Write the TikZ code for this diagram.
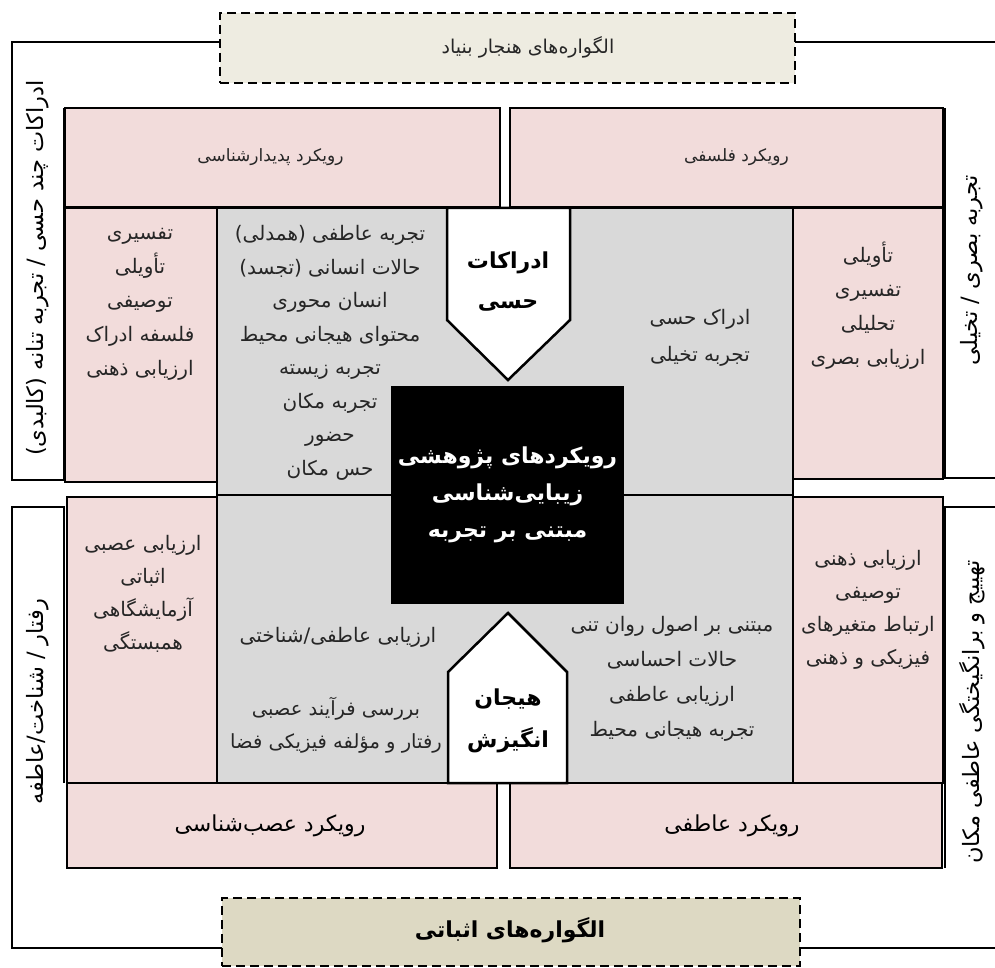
\documentclass[tikz,border=0pt]{standalone}
\usepackage{fontspec}
\newfontfamily\arabicfont[Script=Arabic]{DejaVu Sans}
\TeXXeTstate=1
\newcommand{\fa}[1]{\beginR #1\endR}
\definecolor{pinkbox}{HTML}{F2DCDB}
\definecolor{graybox}{HTML}{D9D9D9}
\definecolor{tanlight}{HTML}{EEECE1}
\definecolor{tandark}{HTML}{DDD9C3}
\begin{document}
\begin{tikzpicture}[x=1pt,y=-1pt,
  box/.style={draw=black, line width=2.5pt, anchor=north west, inner sep=0pt, outer sep=0pt},
  pinkb/.style={box, fill=pinkbox},
  grayb/.style={box, fill=graybox},
  dashb/.style={box, dash pattern=on 9pt off 5pt, line width=2.6pt},
  frame/.style={draw=black, line width=2.5pt},
  body/.style={font=\arabicfont\fontsize{20}{#1}\selectfont, align=center, inner sep=0pt, text=black!85},
  body/.default=33.5,
  small/.style={font=\arabicfont\fontsize{17}{19}\selectfont, inner sep=0pt, text=black!85},
  mid/.style={font=\arabicfont\fontsize{22}{24}\selectfont, inner sep=0pt},
  strong/.style={font=\arabicfont\bfseries\fontsize{22}{#1}\selectfont, align=center, inner sep=0pt},
  vert/.style={font=\arabicfont\fontsize{22.5}{24}\selectfont, inner sep=0pt, rotate=90}
]
\useasboundingbox (0,0) rectangle (995,968);
\fill[white] (0,0) rectangle (995,968);

% outer frames
\node[dashb, fill=tanlight, minimum width=575, minimum height=70] (topdash) at (220,13) {};
\node[dashb, fill=tandark, minimum width=578, minimum height=68] (botdash) at (222,898) {};
\draw[frame] (topdash.west |- 0,42) -- (12,42) -- (12,480) -- (64,480) -- (64,108);
\draw[frame] (topdash.east |- 0,42) -- (1000,42);
\draw[frame] (1000,478) -- (945,478) -- (945,108);
\draw[frame] (64,783) -- (64,507) -- (12,507) -- (12,948) -- (botdash.west |- 0,948);
\draw[frame] (945,868) -- (945,507) -- (1000,507);
\draw[frame] (botdash.east |- 0,948) -- (1000,948);

% central gray area
\node[grayb, minimum width=576, minimum height=575] (core) at (217,208) {};
\draw[frame] (core.west |- 0,495) -- (392,495);
\draw[frame] (623,495) -- (core.east |- 0,495);

% pink boxes
\node[pinkb, minimum width=435, minimum height=99] (phen) at (65,108) {};
\node[pinkb, minimum width=433, minimum height=99] (phil) at (510,108) {};
\node[pinkb, minimum width=152, minimum height=274] (ltcol) at (65,208) {};
\node[pinkb, minimum width=150, minimum height=271] (rtcol) at (793,208) {};
\node[pinkb, minimum width=150, minimum height=286] (lbcol) at (67,497) {};
\node[pinkb, minimum width=150, minimum height=286] (rbcol) at (793,497) {};
\node[pinkb, minimum width=430, minimum height=85] (neuro) at (67,783) {};
\node[pinkb, minimum width=432, minimum height=85] (emo) at (510,783) {};

% pentagons and centre
\draw[frame, fill=white] (447,208) -- (570,208) -- (570,320) -- (508,380) -- (447,320) -- cycle;
\draw[frame, fill=white] (448,783) -- (448,672) -- (508,613) -- (567,672) -- (567,783) -- cycle;
\node[box, fill=black, minimum width=231, minimum height=216] (centre) at (392,387) {};

% texts
\node[small, font=\arabicfont\fontsize{19}{21}\selectfont] (t1) at (528,47) {\fa{الگواره‌های هنجار بنیاد}};
\node[strong=24] (t2) at (510,930) {\fa{الگواره‌های اثباتی}};
\node[small] (t3) at ([xshift=-12pt]phen.center) {\fa{رویکرد پدیدارشناسی}};
\node[small] (t4) at ([xshift=10pt]phil.center) {\fa{رویکرد فلسفی}};
\node[mid] (t5) at ([xshift=-12pt]neuro.center) {\fa{رویکرد عصب‌شناسی}};
\node[mid] (t6) at ([xshift=6pt]emo.center) {\fa{رویکرد عاطفی}};

\node[body=34] (t7) at (140,304) {\fa{تفسیری}\\\fa{تأویلی}\\\fa{توصیفی}\\\fa{فلسفه ادراک}\\\fa{ارزیابی ذهنی}};
\node[body=34] (t8) at (868,306) {\fa{تأویلی}\\\fa{تفسیری}\\\fa{تحلیلی}\\\fa{ارزیابی بصری}};
\node[body=33] (t9) at (143,594) {\fa{ارزیابی عصبی}\\\fa{اثباتی}\\\fa{آزمایشگاهی}\\\fa{همبستگی}};
\node[body=33] (t10) at (868,610) {\fa{ارزیابی ذهنی}\\\fa{توصیفی}\\\fa{ارتباط متغیرهای}\\\fa{فیزیکی و ذهنی}};

\node[body=33.5] (t11) at (330,353) {\fa{تجربه عاطفی (همدلی)}\\\fa{حالات انسانی (تجسد)}\\\fa{انسان محوری}\\\fa{محتوای هیجانی محیط}\\\fa{تجربه زیسته}\\\fa{تجربه مکان}\\\fa{حضور}\\\fa{حس مکان}};
\node[body=37] (t12) at (700,338) {\fa{ادراک حسی}\\\fa{تجربه تخیلی}};
\node[body] (t13) at (338,637) {\fa{ارزیابی عاطفی/شناختی}};
\node[body=33, font=\arabicfont\fontsize{19.5}{33}\selectfont] (t14) at (336,725) {\fa{بررسی فرآیند عصبی}\\\fa{رفتار و مؤلفه فیزیکی فضا}};
\node[body=35] (t15) at (672,679) {\fa{مبتنی بر اصول روان تنی}\\\fa{حالات احساسی}\\\fa{ارزیابی عاطفی}\\\fa{تجربه هیجانی محیط}};

\node[strong=40] (t16) at (508,282) {\fa{ادراکات}\\\fa{حسی}};
\node[strong=42] (t17) at (508,721) {\fa{هیجان}\\\fa{انگیزش}};
\node[strong=37, text=white] (t18) at (centre) {\fa{رویکردهای پژوهشی}\\\fa{زیبایی‌شناسی}\\\fa{مبتنی بر تجربه}};

\node[vert] (t19) at (38,268) {\fa{ادراکات چند حسی / تجربه تنانه (کالبدی)}};
\node[vert] (t20) at (972,270) {\fa{تجربه بصری / تخیلی}};
\node[vert] (t21) at (38,702) {\fa{رفتار / شناخت/عاطفه}};
\node[vert] (t22) at (972,712) {\fa{تهییج و برانگیختگی عاطفی مکان}};
\end{tikzpicture}
\end{document}
